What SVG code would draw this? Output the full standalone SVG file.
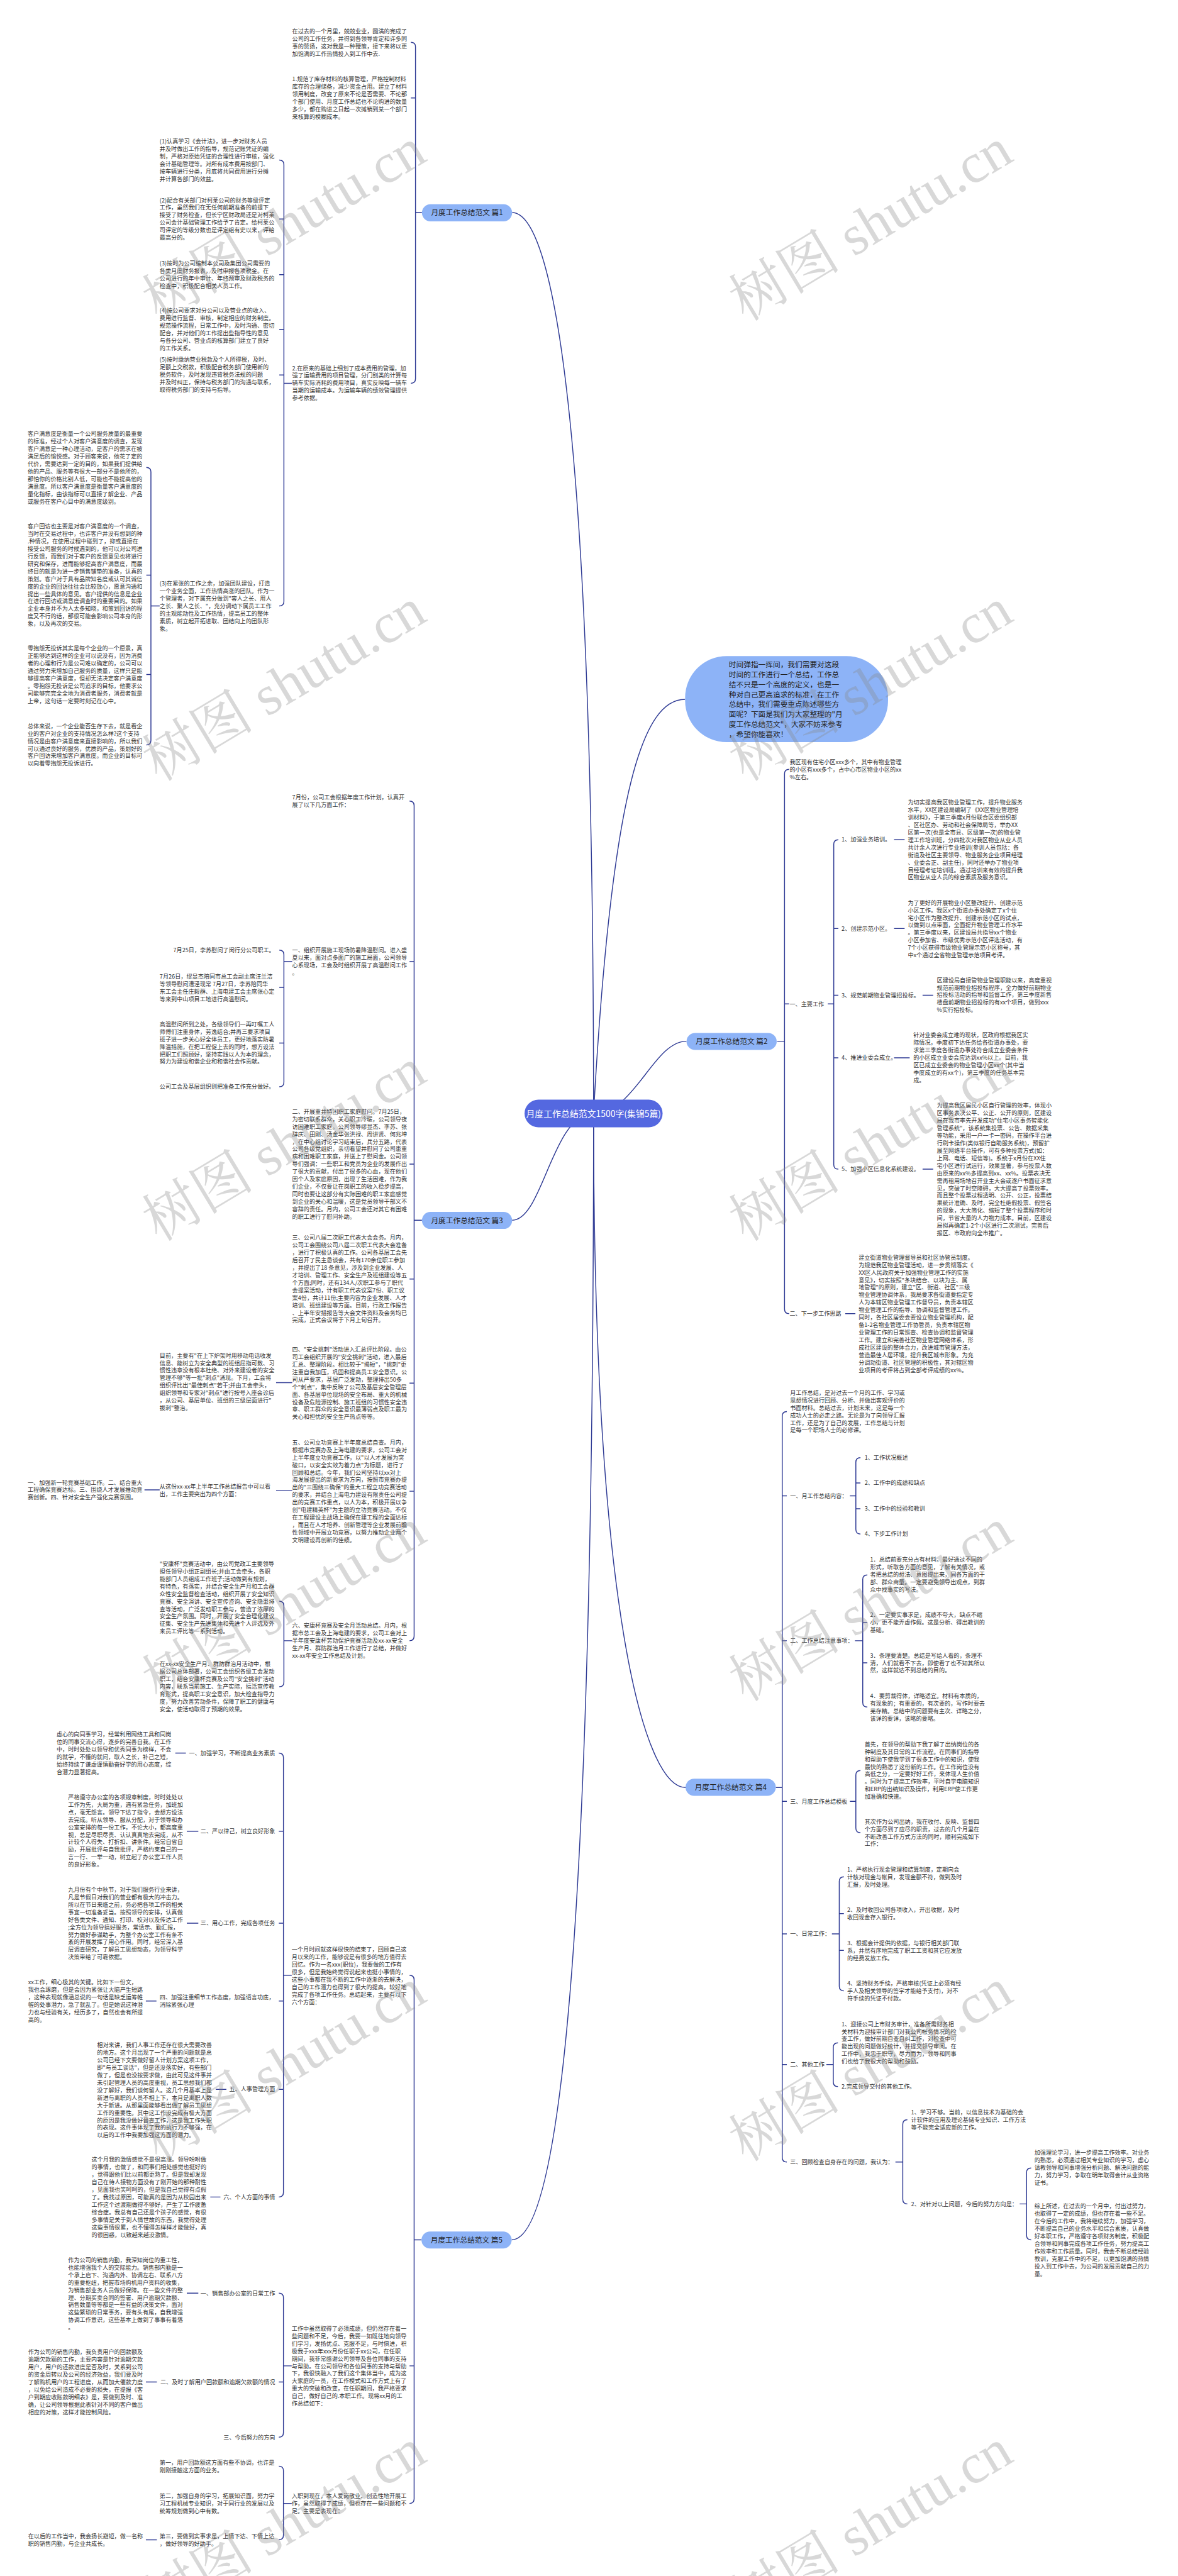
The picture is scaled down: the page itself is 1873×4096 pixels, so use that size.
<svg xmlns="http://www.w3.org/2000/svg" xmlns:xlink="http://www.w3.org/1999/xlink" width="1873" height="4096" viewBox="0 0 1873 4096">
<defs>
<style>
.t{font-family:"Noto Sans CJK SC","Noto Sans",sans-serif;font-size:12.5px;fill:#333}
.te{font-family:"Noto Sans CJK SC","Noto Sans",sans-serif;font-size:12.5px;fill:#333;text-anchor:end}
.n{font-family:"Noto Sans CJK SC","Noto Sans",sans-serif;font-size:16px;fill:#222}
.nm{font-family:"Noto Sans CJK SC","Noto Sans",sans-serif;font-size:16px;fill:#222;text-anchor:middle}
.c{font-family:"Noto Sans CJK SC","Noto Sans",sans-serif;font-size:19px;fill:#fff;text-anchor:middle}
.l{fill:none;stroke:#2e3a94;stroke-width:2}
.bn{fill:#8db3f7}
.wm{font-family:"Liberation Serif","Noto Serif CJK SC","Noto Sans CJK SC",serif;font-size:122px;fill:#888;fill-opacity:.33}
</style>
<text id="wmt" class="wm">树图 shutu.cn</text>
</defs>
<rect width="1873" height="4096" fill="#fff"/>
<g transform="scale(0.7316)">

<g id="connectors">
<path class="l" d="M1290,2420 C1290,900 1200,462 1113,462"/>
<path class="l" d="M1290,2420 C1330,1700 1400,1520 1489,1520"/>
<path class="l" d="M1290,2420 C1380,2420 1420,2263 1492,2263"/>
<path class="l" d="M1290,2420 C1200,2420 1180,2652 1113,2652"/>
<path class="l" d="M1290,2420 C1290,3500 1400,3885 1490,3885"/>
<path class="l" d="M1290,2420 C1290,4400 1200,4868 1112,4868"/>
<path class="l" d="M893,92 Q903,92 903,102 V823 Q903,833 893,833 M903,213 H893 M903,462 H917"/>
<path class="l" d="M607,348 Q617,348 617,358 V1307 Q617,1317 607,1317 M617,476 H607 M617,597 H607 M617,716 H607 M617,815 H607 M617,833 H635"/>
<path class="l" d="M318,1016 Q328,1016 328,1026 V1609 Q328,1619 318,1619 M328,1250 H318 M328,1466 H318 M328,1317 H347"/>
<path class="l" d="M890,1741 Q900,1741 900,1751 V3556 Q900,3566 890,3566 M900,2090 H890 M900,2530 H890 M900,2780 H890 M900,3006 H890 M900,3241 H890 M900,2652 H917"/>
<path class="l" d="M607,2065 Q617,2065 617,2075 V2352 Q617,2362 607,2362 M617,2146 H607 M617,2267 H607 M617,2090 H635"/>
<path class="l" d="M635,3005 H600 M635,3240 H600 M347,3238 H314"/>
<path class="l" d="M607,3480 Q617,3480 617,3490 V3656 Q617,3666 607,3666 M617,3566 H635"/>
<path class="l" d="M1715,1672 Q1705,1672 1705,1682 V2845 Q1705,2855 1715,2855 M1705,2182 H1715 M1689,2263 H1705"/>
<path class="l" d="M1799,2182 H1812 M1822,1825 Q1812,1825 1812,1835 V2531 Q1812,2541 1822,2541 M1812,2018 H1822 M1812,2163 H1822 M1812,2299 H1822"/>
<path class="l" d="M1943,1825 H1966 M1943,2018 H1966 M2005,2163 H2028 M1943,2299 H1977 M2005,2541 H2028 M1837,2855 H1859"/>
<path class="l" d="M1710,3068 Q1700,3068 1700,3078 V4689 Q1700,4699 1710,4699 M1700,3251 H1710 M1700,3566 H1710 M1700,3915 H1710 M1700,4203 H1710 M1700,4487 H1710 M1686,3885 H1700"/>
<path class="l" d="M1847,3251 H1860 M1870,3168 Q1860,3168 1860,3178 V3324 Q1860,3334 1870,3334 M1860,3223 H1870 M1860,3279 H1870"/>
<path class="l" d="M1858,3566 H1875 M1885,3423 Q1875,3423 1875,3433 V3700 Q1875,3710 1885,3710 M1875,3526 H1885 M1875,3614 H1885"/>
<path class="l" d="M1847,3915 H1860 M1870,3848 Q1860,3848 1860,3858 V3973 Q1860,3983 1870,3983"/>
<path class="l" d="M1808,4203 H1824 M1834,4079 Q1824,4079 1824,4089 V4317 Q1824,4327 1834,4327 M1824,4159 H1834 M1824,4239 H1834"/>
<path class="l" d="M1796,4487 H1811 M1821,4440 Q1811,4440 1811,4450 V4525 Q1811,4535 1821,4535"/>
<path class="l" d="M1946,4699 H1962 M1972,4607 Q1962,4607 1962,4617 V4780 Q1962,4790 1972,4790"/>
<path class="l" d="M2216,4790 H2231 M2241,4712 Q2231,4712 2231,4722 V4858 Q2231,4868 2241,4868"/>
<path class="l" d="M890,4293 Q900,4293 900,4303 V5431 Q900,5441 890,5441 M900,5142 H890 M900,4868 H916"/>
<path class="l" d="M606,3810 Q616,3810 616,3820 V4765 Q616,4775 606,4775 M616,3980 H606 M616,4180 H606 M616,4349 H606 M616,4541 H606 M616,4293 H634"/>
<path class="l" d="M404,3810 H381 M431,3980 H406 M431,4180 H406 M340,4349 H317 M492,4541 H469 M479,4775 H457"/>
<path class="l" d="M606,4984 Q616,4984 616,4994 V5287 Q616,5297 606,5297 M616,5177 H606 M616,5142 H634 M431,4984 H406 M341,5177 H317"/>
<path class="l" d="M606,5360 Q616,5360 616,5370 V5510 Q616,5520 606,5520 M616,5441 H634 M341,5520 H317"/>
</g>

<g id="center"><rect x="1140" y="2390" width="300" height="60" rx="30" fill="#5468e0"/><text class="c" x="1290" y="2427">月度工作总结范文1500字(集锦5篇)</text></g>

<g id="intro"><rect x="1489" y="1426" width="441" height="187" rx="90" class="bn"/>
<text class="n" x="1584" y="1450.5"><tspan>时间弹指一挥间，我们需要对这段</tspan><tspan x="1584" dy="21.6">时间的工作进行一个总结，工作总</tspan><tspan x="1584" dy="21.6">结不只是一个高度的定义，也是一</tspan><tspan x="1584" dy="21.6">种对自己更高追求的标准，在工作</tspan><tspan x="1584" dy="21.6">总结中，我们需要重点陈述哪些方</tspan><tspan x="1584" dy="21.6">面呢？下面是我们为大家整理的"月</tspan><tspan x="1584" dy="21.6">度工作总结范文"，大家不妨来参考</tspan><tspan x="1584" dy="21.6">，希望你能喜欢！</tspan></text></g>

<g id="p1"><rect x="917" y="444" width="196" height="37" rx="18.5" class="bn"/><text class="nm" x="1015" y="468">月度工作总结范文 篇1</text></g>
<g id="p1a"><text class="t" x="635" y="72.5"><tspan>在过去的一个月里，兢兢业业，圆满的完成了</tspan><tspan x="635" dy="16.3">公司的工作任务，并得到各领导肯定和许多同</tspan><tspan x="635" dy="16.3">事的赞扬，这对我是一种鞭策，接下来将以更</tspan><tspan x="635" dy="16.3">加饱满的工作热情投入到工作中去.</tspan></text></g>
<g id="p1b"><text class="t" x="635" y="176.5"><tspan>1.规范了库存材料的核算管理，严格控制材料</tspan><tspan x="635" dy="16.3">库存的合理储备，减少资金占用。建立了材料</tspan><tspan x="635" dy="16.3">领用制度，改变了原来不论是否需要、不论那</tspan><tspan x="635" dy="16.3">个部门使用、月度工作总结也不论购进的数量</tspan><tspan x="635" dy="16.3">多少，都在购进之日起一次摊销到某一个部门</tspan><tspan x="635" dy="16.3">来核算的模糊成本。</tspan></text></g>
<g id="p1c"><text class="t" x="635" y="804.5"><tspan>2.在原来的基础上细划了成本费用的管理，加</tspan><tspan x="635" dy="16.3">强了运输费用的项目管理，分门别类的计算每</tspan><tspan x="635" dy="16.3">辆车实际消耗的费用项目，真实反映每一辆车</tspan><tspan x="635" dy="16.3">当期的运输成本。为运输车辆的绩效管理提供</tspan><tspan x="635" dy="16.3">参考依据。</tspan></text></g>
<g id="m1"><text class="t" x="347" y="311.5"><tspan>(1)认真学习《会计法》，进一步对财务人员</tspan><tspan x="347" dy="16.3">并及时做出工作的指导，规范记账凭证的编</tspan><tspan x="347" dy="16.3">制，严格对原始凭证的合理性进行审核，强化</tspan><tspan x="347" dy="16.3">会计基础管理等。对所有成本费用按部门、</tspan><tspan x="347" dy="16.3">按车辆进行分类，月底将共同费用进行分摊</tspan><tspan x="347" dy="16.3">并计算各部门的效益。</tspan></text></g>
<g id="m2"><text class="t" x="347" y="439.5"><tspan>(2)配合有关部门对柯莱公司的财务等级评定</tspan><tspan x="347" dy="16.3">工作，虽然我们在无任何前期准备的前提下</tspan><tspan x="347" dy="16.3">接受了财务检查，但长宁区财政局还是对柯莱</tspan><tspan x="347" dy="16.3">公司会计基础管理工作给予了肯定。给柯莱公</tspan><tspan x="347" dy="16.3">司评定的等级分数也是评定组有史以来，评给</tspan><tspan x="347" dy="16.3">最高分的。</tspan></text></g>
<g id="m3"><text class="t" x="347" y="577.5"><tspan>(3)按时为公司编制本公司及集团公司需要的</tspan><tspan x="347" dy="16.3">各类月度财务报表，及时申报各项税金。在</tspan><tspan x="347" dy="16.3">公司进行的年中审计、年终预审及财政税务的</tspan><tspan x="347" dy="16.3">检查中，积极配合相关人员工作。</tspan></text></g>
<g id="m4"><text class="t" x="347" y="679.5"><tspan>(4)按公司要求对分公司以及营业点的收入、</tspan><tspan x="347" dy="16.3">费用进行监督、审核，制定相应的财务制度。</tspan><tspan x="347" dy="16.3">规范操作流程，日常工作中，及时沟通、密切</tspan><tspan x="347" dy="16.3">配合，并对他们的工作提出些指导性的意见</tspan><tspan x="347" dy="16.3">与各分公司、营业点的核算部门建立了良好</tspan><tspan x="347" dy="16.3">的工作关系。</tspan></text></g>
<g id="m5"><text class="t" x="347" y="786.5"><tspan>(5)按时缴纳营业税款及个人所得税，及时、</tspan><tspan x="347" dy="16.3">足额上交税款，积极配合税务部门使用新的</tspan><tspan x="347" dy="16.3">税务软件，及时发现违背税务法规的问题</tspan><tspan x="347" dy="16.3">并及时纠正，保持与税务部门的沟通与联系，</tspan><tspan x="347" dy="16.3">取得税务部门的支持与指导。</tspan></text></g>
<g id="m6"><text class="t" x="347" y="1272.5"><tspan>(3)在紧张的工作之余，加强团队建设，打造</tspan><tspan x="347" dy="16.3">一个业务全面，工作热情高涨的团队。作为一</tspan><tspan x="347" dy="16.3">个管理者，对下属充分做到"容人之长、用人</tspan><tspan x="347" dy="16.3">之长、聚人之长、"，充分调动下属员工工作</tspan><tspan x="347" dy="16.3">的主观能动性及工作热情，提高员工的整体</tspan><tspan x="347" dy="16.3">素质，树立起开拓进取、团结向上的团队形</tspan><tspan x="347" dy="16.3">象。</tspan></text></g>
<g id="f1"><text class="t" x="60" y="947.5"><tspan>客户满意度是衡量一个公司服务质量的最重要</tspan><tspan x="60" dy="16.3">的标准，经过个人对客户满意度的调查，发现</tspan><tspan x="60" dy="16.3">客户满意是一种心理活动，是客户的需求在被</tspan><tspan x="60" dy="16.3">满足后的愉悦感。对于顾客来说，他花了定的</tspan><tspan x="60" dy="16.3">代价，需要达到一定的目的，如果我们提供给</tspan><tspan x="60" dy="16.3">他的产品、服务等有很大一部分不是他所的，</tspan><tspan x="60" dy="16.3">那怕你的价格比别人低，可能也不能提高他的</tspan><tspan x="60" dy="16.3">满意度。所以客户满意度是衡量客户满意度的</tspan><tspan x="60" dy="16.3">量化指标，由该指标可以直接了解企业、产品</tspan><tspan x="60" dy="16.3">或服务在客户心目中的满意度级别。</tspan></text></g>
<g id="f2"><text class="t" x="60" y="1148.5"><tspan>客户回访也主要是对客户满意度的一个调查，</tspan><tspan x="60" dy="16.3">当时在交易过程中，也许客户并没有想到的种</tspan><tspan x="60" dy="16.3">.种情况，在使用过程中碰到了，抑或直接在</tspan><tspan x="60" dy="16.3">接受公司服务的时候遇到的，他可以对公司进</tspan><tspan x="60" dy="16.3">行反馈，而我们对于客户的反馈意见也将进行</tspan><tspan x="60" dy="16.3">研究和保存，进而能够提高客户满意度，而最</tspan><tspan x="60" dy="16.3">终目的就是为进一步销售铺垫的准备，认真的</tspan><tspan x="60" dy="16.3">策划。客户对于具有品牌知名度或认可其诚信</tspan><tspan x="60" dy="16.3">度的企业的回访往往会比较放心，愿意沟通和</tspan><tspan x="60" dy="16.3">提出一些具体的意见。客户提供的信息是企业</tspan><tspan x="60" dy="16.3">在进行回访或满意度调查时的重要目的。如果</tspan><tspan x="60" dy="16.3">企业本身并不为人太多知晓，和策划回访的程</tspan><tspan x="60" dy="16.3">度又不行的话，那很可能会影响公司本身的形</tspan><tspan x="60" dy="16.3">象，以及再次的交易。</tspan></text></g>
<g id="f3"><text class="t" x="60" y="1413.5"><tspan>零抱怨无投诉其实是每个企业的一个愿景，真</tspan><tspan x="60" dy="16.3">正能够达到这样的企业可以说没有，因为消费</tspan><tspan x="60" dy="16.3">者的心理和行为是公司难以确定的，公司可以</tspan><tspan x="60" dy="16.3">通过努力来增加自己服务的质量，这样只是能</tspan><tspan x="60" dy="16.3">够提高客户满意度，但却无法决定客户满意度</tspan><tspan x="60" dy="16.3">。零抱怨无投诉是公司追求的目标，他要求公</tspan><tspan x="60" dy="16.3">司能够完完全全地为消费者服务，消费者就是</tspan><tspan x="60" dy="16.3">上帝，这句话一定要时刻记在心中。</tspan></text></g>
<g id="f4"><text class="t" x="60" y="1582.5"><tspan>总体来说，一个企业能否生存下去，就是看企</tspan><tspan x="60" dy="16.3">业的客户对企业的支持情况怎么样?这个支持</tspan><tspan x="60" dy="16.3">情况是由客户满意度来直接影响的，所以我们</tspan><tspan x="60" dy="16.3">可以通过良好的服务，优质的产品，策划好的</tspan><tspan x="60" dy="16.3">客户回访来增加客户满意度。而企业的目标可</tspan><tspan x="60" dy="16.3">以向着零抱怨无投诉进行。</tspan></text></g>

<g id="p3"><rect x="917" y="2634" width="196" height="37" rx="18.5" class="bn"/><text class="nm" x="1015" y="2658">月度工作总结范文 篇3</text></g>
<g id="t0"><text class="t" x="635" y="1737.5"><tspan>7月份，公司工会根据年度工作计划，认真开</tspan><tspan x="635" dy="16.3">展了以下几方面工作：</tspan></text></g>
<g id="t1"><text class="t" x="635" y="2069.5"><tspan>一、组织开展施工现场防暑降温慰问。进入盛</tspan><tspan x="635" dy="16.3">夏以来，面对点多面广的施工局面，公司领导</tspan><tspan x="635" dy="16.3">心系现场，工会及时组织开展了高温慰问工作</tspan><tspan x="635" dy="16.3">。</tspan></text></g>
<g id="t1a"><text class="te" x="597" y="2069.5">7月25日，李苏慰问了闵行分公司职工。</text></g>
<g id="t1b"><text class="t" x="347" y="2126.5"><tspan>7月26日，缪显杰陪同市总工会副主席汪兰洁</tspan><tspan x="347" dy="16.3">等领导慰问漕泾现常 7月27日，李苏陪同华</tspan><tspan x="347" dy="16.3">东工会主任庄毅群、上海电建工会主席张心定</tspan><tspan x="347" dy="16.3">等来到中山项目工地进行高温慰问。</tspan></text></g>
<g id="t1c"><text class="t" x="347" y="2230.5"><tspan>高温慰问所到之处，各级领导们一再叮嘱工人</tspan><tspan x="347" dy="16.3">师傅们注重身体，劳逸结合;并再三要求项目</tspan><tspan x="347" dy="16.3">班子进一步关心好全体员工，更好地落实防暑</tspan><tspan x="347" dy="16.3">降温措施，在把工程促上去的同时，想方设法</tspan><tspan x="347" dy="16.3">把职工们照顾好，坚持实践以人为本的理念，</tspan><tspan x="347" dy="16.3">努力为建设和谐企业和和谐社会作贡献。</tspan></text></g>
<g id="t1d"><text class="t" x="347" y="2366.5">公司工会及基层组织则把准备工作充分做好。</text></g>
<g id="t2"><text class="t" x="635" y="2420.5"><tspan>二、开展重并特困职工家庭慰问。7月25日，</tspan><tspan x="635" dy="16.3">为密切联系群众，关心职工冷暖，公司领导夜</tspan><tspan x="635" dy="16.3">访困难职工家庭。公司领导缪显杰、李苏、张</tspan><tspan x="635" dy="16.3">辞庆、田刚、汤金华张洪禄、周讲贤、何兆坤</tspan><tspan x="635" dy="16.3">，在中心组讨论学习结束后，兵分五路，代表</tspan><tspan x="635" dy="16.3">公司各级党组织，亲切看望并慰问了公司患重</tspan><tspan x="635" dy="16.3">病和困难职工家庭，并送上了慰问金。公司领</tspan><tspan x="635" dy="16.3">导们强调：一些职工和党员为企业的发展作出</tspan><tspan x="635" dy="16.3">了很大的贡献，付出了很多的心血，现在他们</tspan><tspan x="635" dy="16.3">因个人及家庭原因，出现了生活困难，作为我</tspan><tspan x="635" dy="16.3">们企业，不仅要让在岗职工的收入稳步提高，</tspan><tspan x="635" dy="16.3">同时也要让这部分有实际困难的职工家庭感觉</tspan><tspan x="635" dy="16.3">到企业的关心和温暖，这是党员领导干部义不</tspan><tspan x="635" dy="16.3">容辞的责任。月内，公司工会还对其它有困难</tspan><tspan x="635" dy="16.3">的职工进行了慰问补助。</tspan></text></g>
<g id="t3"><text class="t" x="635" y="2694.5"><tspan>三、公司八届二次职工代表大会会务。月内，</tspan><tspan x="635" dy="16.3">公司工会围绕公司八届二次职工代表大会准备</tspan><tspan x="635" dy="16.3">，进行了积极认真的工作。公司各基层工会先</tspan><tspan x="635" dy="16.3">后召开了民主恳谈会，共有170余位职工参加</tspan><tspan x="635" dy="16.3">，并提出了18 条意见，涉及到企业发展、人</tspan><tspan x="635" dy="16.3">才培训、管理工作、安全生产及班组建设等五</tspan><tspan x="635" dy="16.3">个方面;同时，还有134人/次职工参与了职代</tspan><tspan x="635" dy="16.3">会提案活动，计有职工代表议案7份、职工议</tspan><tspan x="635" dy="16.3">案4份，共计11份;主要内容为企业发展、人才</tspan><tspan x="635" dy="16.3">培训、班组建设等方面。目前，行政工作报告</tspan><tspan x="635" dy="16.3">、上半年安措报告等大会文件资料及会务均已</tspan><tspan x="635" dy="16.3">完成，正式会议将于下月上旬召开。</tspan></text></g>
<g id="t4"><text class="t" x="635" y="2937.5"><tspan>四、"安全挑刺"活动进入汇总评比阶段。由公</tspan><tspan x="635" dy="16.3">司工会组织开展的"安全挑刺"活动，进入最后</tspan><tspan x="635" dy="16.3">汇总、整理阶段。相比较于"揭短"，"挑刺"更</tspan><tspan x="635" dy="16.3">注重自我加压，巩固和提高员工安全意识。公</tspan><tspan x="635" dy="16.3">司从严要求，基层广泛发动，整理排出50多</tspan><tspan x="635" dy="16.3">个"刺点"，集中反映了公司及基层安全管理层</tspan><tspan x="635" dy="16.3">面、各基层单位现场的安全布局、重大的机械</tspan><tspan x="635" dy="16.3">设备及危险源控制、施工班组的习惯性安全违</tspan><tspan x="635" dy="16.3">章、职工群众的安全意识最薄弱点及职工最为</tspan><tspan x="635" dy="16.3">关心和担忧的安全生产热点等等。</tspan></text></g>
<g id="t4a"><text class="t" x="347" y="2950.5"><tspan>目前，主要有"在上下炉架时用移动电话收发</tspan><tspan x="347" dy="16.3">信息、能树立为安全典型的班组屈指可数、习</tspan><tspan x="347" dy="16.3">惯性违章没有根本杜绝、对外来建设者的安全</tspan><tspan x="347" dy="16.3">管理不够"等一批"刺点"涌现。下月，工会将</tspan><tspan x="347" dy="16.3">组织评比出"最佳刺点"若干;并由工会牵头，</tspan><tspan x="347" dy="16.3">组织领导和专家对"刺点"进行按号入座会诊后</tspan><tspan x="347" dy="16.3">，从公司、基层单位、班组的三级层面进行"</tspan><tspan x="347" dy="16.3">拔刺"整治。</tspan></text></g>
<g id="t5"><text class="t" x="635" y="3139.5"><tspan>五、公司立功竞赛上半年度总结自查。月内，</tspan><tspan x="635" dy="16.3">根据市竞赛办及上海电建的要求，公司工会对</tspan><tspan x="635" dy="16.3">上半年度立功竞赛工作，以"以人才发展为突</tspan><tspan x="635" dy="16.3">破口，以安全实效为着力点"为标题，进行了</tspan><tspan x="635" dy="16.3">回顾和总结。今年，我们公司坚持以xx对上</tspan><tspan x="635" dy="16.3">海发展提出的新要求为方向，按照市竞赛办提</tspan><tspan x="635" dy="16.3">出的"三围绕三确保"的重大工程立功竞赛活动</tspan><tspan x="635" dy="16.3">的要求，并结合上海电力建设有限责任公司提</tspan><tspan x="635" dy="16.3">出的竞赛工作重点，以人为本，积极开展以争</tspan><tspan x="635" dy="16.3">创"电建精英杯"为主题的立功竞赛活动。不仅</tspan><tspan x="635" dy="16.3">在工程建设主战场上确保在建工程的全面达标</tspan><tspan x="635" dy="16.3">，而且在人才培养、创新管理等企业发展前瞻</tspan><tspan x="635" dy="16.3">性领域中开展立功竞赛，以努力推动企业两个</tspan><tspan x="635" dy="16.3">文明建设再创新的佳绩。</tspan></text></g>
<g id="t5a"><text class="t" x="347" y="3235.5"><tspan>从这份xx-xx年上半年工作总结报告中可以看</tspan><tspan x="347" dy="16.3">出，工作主要突出为四个方面：</tspan></text></g>
<g id="t5b"><text class="t" x="60" y="3226.5"><tspan>一、加强新一轮竞赛基础工作。二、结合重大</tspan><tspan x="60" dy="16.3">工程确保竞赛达标。三、围绕人才发展推动竞</tspan><tspan x="60" dy="16.3">赛创新。四、针对安全生产强化竞赛氛围。</tspan></text></g>
<g id="t6"><text class="t" x="635" y="3537.5"><tspan>六、安康杯竞赛及安全月活动总结。月内，根</tspan><tspan x="635" dy="16.3">据市总工会及上海电建的要求，公司工会对上</tspan><tspan x="635" dy="16.3">半年度安康杯劳动保护竞赛活动及xx-xx安全</tspan><tspan x="635" dy="16.3">生产月、群防群治月工作进行了总结，并做好</tspan><tspan x="635" dy="16.3">xx-xx年安全工作总结及计划。</tspan></text></g>
<g id="t6a"><text class="t" x="347" y="3403.5"><tspan>"安康杯"竞赛活动中，由公司党政工主要领导</tspan><tspan x="347" dy="16.3">担任领导小组正副组长;并由工会牵头，各职</tspan><tspan x="347" dy="16.3">能部门人员组成工作班子;活动做到有规划，</tspan><tspan x="347" dy="16.3">有特色，有落实，并结合安全生产月和工会群</tspan><tspan x="347" dy="16.3">众性安全监督检查活动，组织开展了安全知识</tspan><tspan x="347" dy="16.3">竞赛、安全演讲、安全宣传咨询、安全隐患排</tspan><tspan x="347" dy="16.3">查等活动，广泛发动职工参与，营造了浓厚的</tspan><tspan x="347" dy="16.3">安全生产氛围。同时，开展了安全合理化建议</tspan><tspan x="347" dy="16.3">征集、安全生产先进集体和先进个人评选及外</tspan><tspan x="347" dy="16.3">来员工评比等一系列活动。</tspan></text></g>
<g id="t6b"><text class="t" x="347" y="3621.5"><tspan>在xx-xx安全生产月、群防群治月活动中，根</tspan><tspan x="347" dy="16.3">据公司总体部署，公司工会组织各级工会发动</tspan><tspan x="347" dy="16.3">职工，结合安康杯竞赛及公司"安全挑刺"活动</tspan><tspan x="347" dy="16.3">内容，联系当前施工、生产实际，搞活宣传教</tspan><tspan x="347" dy="16.3">育形式，提高职工安全意识，加大检查指导力</tspan><tspan x="347" dy="16.3">度，努力改善劳动条件，保障了职工的健康与</tspan><tspan x="347" dy="16.3">安全，使活动取得了预期的效果。</tspan></text></g>

<g id="p2"><rect x="1492" y="2245" width="196" height="37" rx="18.5" class="bn"/><text class="nm" x="1590" y="2269">月度工作总结范文 篇2</text></g>
<g id="w0"><text class="t" x="1716" y="1660.5"><tspan>我区现有住宅小区xxx多个，其中有物业管理</tspan><tspan x="1716" dy="16.3">的小区有xxx多个，占中心市区物业小区的xx</tspan><tspan x="1716" dy="16.3">%左右。</tspan></text></g>
<g id="w1"><text class="t" x="1716" y="2186.5">一、主要工作</text></g>
<g id="w1l"><text class="t" x="1829" y="1829.5">1、加强业务培训。</text><text class="t" x="1829" y="2022.5">2、创建示范小区。</text><text class="t" x="1829" y="2167.5">3、规范前期物业管理招投标。</text><text class="t" x="1829" y="2303.5">4、推进业委会成立。</text><text class="t" x="1829" y="2545.5">5、加强小区信息化系统建设。</text></g>
<g id="w1a"><text class="t" x="1973" y="1748.5"><tspan>为切实提高我区物业管理工作，提升物业服务</tspan><tspan x="1973" dy="16.3">水平，XX区建设局编制了《XX区物业管理培</tspan><tspan x="1973" dy="16.3">训材料》，于第三季度x月份联合区委组织部</tspan><tspan x="1973" dy="16.3">、区社区办、劳动和社会保障局等，举办XX</tspan><tspan x="1973" dy="16.3">区第一次(也是全市县、区级第一次)的物业管</tspan><tspan x="1973" dy="16.3">理工作培训班，分四批次对我区物业从业人员</tspan><tspan x="1973" dy="16.3">共计余人次进行专业培训(参训人员包括：各</tspan><tspan x="1973" dy="16.3">街道及社区主要领导、物业服务企业项目经理</tspan><tspan x="1973" dy="16.3">、业委会正、副主任)，同时还举办了物业项</tspan><tspan x="1973" dy="16.3">目经理考证培训班。通过培训来有效的提升我</tspan><tspan x="1973" dy="16.3">区物业从业人员的综合素质及服务意识。</tspan></text></g>
<g id="w2a"><text class="t" x="1973" y="1966.5"><tspan>为了更好的开展物业小区整改提升、创建示范</tspan><tspan x="1973" dy="16.3">小区工作。我区x个街道办事处确定了x个住</tspan><tspan x="1973" dy="16.3">宅小区作为整改提升、创建示范小区的试点，</tspan><tspan x="1973" dy="16.3">以做到以点带面，全面提升物业管理工作水平</tspan><tspan x="1973" dy="16.3">。第三季度以来，区建设局共指导xx个物业</tspan><tspan x="1973" dy="16.3">小区参加省、市级优秀示范小区评选活动，有</tspan><tspan x="1973" dy="16.3">7个小区获得市级物业管理示范小区称号，其</tspan><tspan x="1973" dy="16.3">中x个通过全省物业管理示范项目考评。</tspan></text></g>
<g id="w3a"><text class="t" x="2036" y="2134.5"><tspan>区建设局自接管物业管理职能以来，高度重视</tspan><tspan x="2036" dy="16.3">规范前期物业招投标程序，全力做好前期物业</tspan><tspan x="2036" dy="16.3">招投标活动的指导和监督工作，第三季度新售</tspan><tspan x="2036" dy="16.3">楼盘前期物业招投标的有xx个项目，做到xxx</tspan><tspan x="2036" dy="16.3">%实行招投标。</tspan></text></g>
<g id="w4a"><text class="t" x="1985" y="2254.5"><tspan>针对业委会成立难的现状，区政府根据我区实</tspan><tspan x="1985" dy="16.3">际情况，季度初下达任务给各街道办事处，要</tspan><tspan x="1985" dy="16.3">求第三季度各街道办事处符合成立业委会条件</tspan><tspan x="1985" dy="16.3">的小区成立业委会应达到xx%以上。目前，我</tspan><tspan x="1985" dy="16.3">区已成立业委会的物业管理小区xx个(其中当</tspan><tspan x="1985" dy="16.3">季度成立的有xx个)，第三季度的任务基本完</tspan><tspan x="1985" dy="16.3">成。</tspan></text></g>
<g id="w5a"><text class="t" x="2036" y="2407.5"><tspan>为提高我区居民小区自行管理的效率，体现小</tspan><tspan x="2036" dy="16.3">区事务表决公平、公正、公开的原则，区建设</tspan><tspan x="2036" dy="16.3">局在我市率先开发成功"住宅小区事务智能化</tspan><tspan x="2036" dy="16.3">管理系统"，该系统集投票、公告、数据采集</tspan><tspan x="2036" dy="16.3">等功能，采用一户一卡一密码，在操作平台进</tspan><tspan x="2036" dy="16.3">行刷卡操作(类似银行自助服务系统)，预留扩</tspan><tspan x="2036" dy="16.3">展至网络平台操作，可有多种投票方式(如：</tspan><tspan x="2036" dy="16.3">上网、电话、短信等)。系统于x月份在XX住</tspan><tspan x="2036" dy="16.3">宅小区进行试运行，效果显著，参与投票人数</tspan><tspan x="2036" dy="16.3">由原来的xx%多提高到xx、xx%。投票表决无</tspan><tspan x="2036" dy="16.3">需再租用场地召开业主大会或逐户书面征求意</tspan><tspan x="2036" dy="16.3">见，突破了时空障碍，大大提高了投票效率。</tspan><tspan x="2036" dy="16.3">而且整个投票过程透明、公开、公正，投票结</tspan><tspan x="2036" dy="16.3">果统计准确、及时，完全杜绝假投票、假签名</tspan><tspan x="2036" dy="16.3">的现象，大大简化、缩短了整个投票程序和时</tspan><tspan x="2036" dy="16.3">间，节省大量的人力物力成本。目前，区建设</tspan><tspan x="2036" dy="16.3">局拟再确定1-2个小区进行二次测试，完善后</tspan><tspan x="2036" dy="16.3">报区、市政府向全市推广。</tspan></text></g>
<g id="w2"><text class="t" x="1716" y="2859.5">二、下一步工作思路</text></g>
<g id="w2b"><text class="t" x="1866" y="2737.5"><tspan>建立街道物业管理督导员和社区协管员制度。</tspan><tspan x="1866" dy="16.3">为规范我区物业管理活动，进一步贯彻落实《</tspan><tspan x="1866" dy="16.3">XX区人民政府关于加强物业管理工作的实施</tspan><tspan x="1866" dy="16.3">意见》，切实按照"条块结合、以块为主、属</tspan><tspan x="1866" dy="16.3">地管理"的原则，建立"区、街道、社区"三级</tspan><tspan x="1866" dy="16.3">物业管理协调体系，我局要求各街道要指定专</tspan><tspan x="1866" dy="16.3">人为本辖区物业管理工作督导员，负责本辖区</tspan><tspan x="1866" dy="16.3">物业管理工作的指导、协调和监督管理工作。</tspan><tspan x="1866" dy="16.3">同时，各社区居委会要设立物业管理机构，配</tspan><tspan x="1866" dy="16.3">备1-2名物业管理工作协管员，负责本辖区物</tspan><tspan x="1866" dy="16.3">业管理工作的日常巡查、检查协调和监督管理</tspan><tspan x="1866" dy="16.3">工作。建立和完善社区物业管理网络体系，形</tspan><tspan x="1866" dy="16.3">成社区建设的整体合力，改进城市管理方法，</tspan><tspan x="1866" dy="16.3">营造最佳人居环境，提升我区城市形象。为充</tspan><tspan x="1866" dy="16.3">分调动街道、社区管理的积极性，其对辖区物</tspan><tspan x="1866" dy="16.3">业项目的考评将占到全部考评成绩的xx%。</tspan></text></g>

<g id="p4"><rect x="1490" y="3866" width="196" height="37" rx="18.5" class="bn"/><text class="nm" x="1588" y="3890">月度工作总结范文 篇4</text></g>
<g id="q0"><text class="t" x="1717" y="3031.5"><tspan>月工作总结，是对过去一个月的工作、学习或</tspan><tspan x="1717" dy="16.3">思想情况进行回顾、分析、并做出客观评价的</tspan><tspan x="1717" dy="16.3">书面材料。总结过去，计划未来，这是每一个</tspan><tspan x="1717" dy="16.3">成功人士的必走之路。无论是为了向领导汇报</tspan><tspan x="1717" dy="16.3">工作，还是为了自己的发展，工作总结与计划</tspan><tspan x="1717" dy="16.3">是每一个职场人士的必修课。</tspan></text></g>
<g id="q1"><text class="t" x="1717" y="3255.5">一、月工作总结内容：</text><text class="t" x="1879" y="3172.5">1、工作状况概述</text><text class="t" x="1879" y="3227.5">2、工作中的成绩和缺点</text><text class="t" x="1879" y="3283.5">3、工作中的经验和教训</text><text class="t" x="1879" y="3338.5">4、下步工作计划</text></g>
<g id="q2"><text class="t" x="1717" y="3570.5">二、工作总结注意事项：</text></g>
<g id="q2a"><text class="t" x="1891" y="3394.5"><tspan>1．总结前要充分占有材料。最好通过不同的</tspan><tspan x="1891" dy="16.3">形式，听取各方面的意见，了解有关情况，或</tspan><tspan x="1891" dy="16.3">者把总结的想法、意图提出来，同各方面的干</tspan><tspan x="1891" dy="16.3">部、群众商量。一定要避免领导出观点，到群</tspan><tspan x="1891" dy="16.3">众中找事实的写法。</tspan></text></g>
<g id="q2b"><text class="t" x="1891" y="3514.5"><tspan>2．一定要实事求是，成绩不夸大，缺点不缩</tspan><tspan x="1891" dy="16.3">小，更不能弄虚作假。这是分析、得出教训的</tspan><tspan x="1891" dy="16.3">基础。</tspan></text></g>
<g id="q2c"><text class="t" x="1891" y="3602.5"><tspan>3．条理要清楚。总结是写给人看的，条理不</tspan><tspan x="1891" dy="16.3">清，人们就看不下去，即使看了也不知其所以</tspan><tspan x="1891" dy="16.3">然，这样就达不到总结的目的。</tspan></text></g>
<g id="q2d"><text class="t" x="1891" y="3690.5"><tspan>4．要剪裁得体，详略适宜。材料有本质的，</tspan><tspan x="1891" dy="16.3">有现象的；有重要的，有次要的，写作时要去</tspan><tspan x="1891" dy="16.3">芜存精。总结中的问题要有主次、详略之分，</tspan><tspan x="1891" dy="16.3">该详的要详，该略的要略。</tspan></text></g>
<g id="q3"><text class="t" x="1717" y="3919.5">三、月度工作总结模板</text></g>
<g id="q3a"><text class="t" x="1879" y="3795.5"><tspan>首先，在领导的帮助下我了解了出纳岗位的各</tspan><tspan x="1879" dy="16.3">种制度及其日常的工作流程。在同事们的指导</tspan><tspan x="1879" dy="16.3">和帮助下使我学到了很多工作中的知识，使我</tspan><tspan x="1879" dy="16.3">最快的熟悉了这份新的工作。在工作岗位没有</tspan><tspan x="1879" dy="16.3">高低之分，一定要好好工作，来体现人生价值</tspan><tspan x="1879" dy="16.3">。同时为了提高工作效率，平时自学电脑知识</tspan><tspan x="1879" dy="16.3">和ERP的出纳知识及操作，利用ERP使工作更</tspan><tspan x="1879" dy="16.3">加准确和快速。</tspan></text></g>
<g id="q3b"><text class="t" x="1879" y="3963.5"><tspan>其次作为公司出纳，我在收付、反映、监督四</tspan><tspan x="1879" dy="16.3">个方面尽到了应尽的职责，过去的几个月里在</tspan><tspan x="1879" dy="16.3">不断改善工作方式方法的同时，顺利完成如下</tspan><tspan x="1879" dy="16.3">工作：</tspan></text></g>
<g id="q4"><text class="t" x="1717" y="4207.5">一、日常工作：</text></g>
<g id="q4a"><text class="t" x="1841" y="4067.5"><tspan>1、严格执行现金管理和结算制度，定期向会</tspan><tspan x="1841" dy="16.3">计核对现金与帐目，发现金额不符，做到及时</tspan><tspan x="1841" dy="16.3">汇报，及时处理。</tspan></text></g>
<g id="q4b"><text class="t" x="1841" y="4155.5"><tspan>2、及时收回公司各项收入，开出收据，及时</tspan><tspan x="1841" dy="16.3">收回现金存入银行。</tspan></text></g>
<g id="q4c"><text class="t" x="1841" y="4227.5"><tspan>3、根据会计提供的依据，与银行相关部门联</tspan><tspan x="1841" dy="16.3">系，井然有序地完成了职工工资和其它应发放</tspan><tspan x="1841" dy="16.3">的经费发放工作。</tspan></text></g>
<g id="q4d"><text class="t" x="1841" y="4315.5"><tspan>4、坚持财务手续，严格审核(凭证上必须有经</tspan><tspan x="1841" dy="16.3">手人及相关领导的签字才能给予支付)，对不</tspan><tspan x="1841" dy="16.3">符手续的凭证不付款。</tspan></text></g>
<g id="q5"><text class="t" x="1717" y="4491.5">二、其他工作</text></g>
<g id="q5a"><text class="t" x="1829" y="4403.5"><tspan>1、迎接公司上市财务审计，准备所需财务相</tspan><tspan x="1829" dy="16.3">关材料为迎接审计部门对我公司帐务情况的检</tspan><tspan x="1829" dy="16.3">查工作，做好前期自查自纠工作，对检查中可</tspan><tspan x="1829" dy="16.3">能出现的问题做好统计，并提交领导审阅。在</tspan><tspan x="1829" dy="16.3">工作中，我忠于职守，尽力而为，领导和同事</tspan><tspan x="1829" dy="16.3">们也给了我很大的帮助和鼓励。</tspan></text></g>
<g id="q5b"><text class="t" x="1829" y="4539.5">2.完成领导交付的其他工作。</text></g>
<g id="q6"><text class="t" x="1717" y="4703.5">三、回顾检查自身存在的问题，我认为：</text></g>
<g id="q6a"><text class="t" x="1980" y="4595.5"><tspan>1、学习不够。当前，以信息技术为基础的会</tspan><tspan x="1980" dy="16.3">计软件的应用及理论基储专业知识、工作方法</tspan><tspan x="1980" dy="16.3">等不能完全适应新的工作。</tspan></text></g>
<g id="q6b"><text class="t" x="1980" y="4794.5">2、对针对以上问题，今后的努力方向是：</text></g>
<g id="q6b1"><text class="t" x="2248" y="4683.5"><tspan>加强理论学习，进一步提高工作效率。对业务</tspan><tspan x="2248" dy="16.3">的熟悉，必须通过相关专业知识的学习，虚心</tspan><tspan x="2248" dy="16.3">请教领导和同事增强分析问题、解决问题的能</tspan><tspan x="2248" dy="16.3">力，努力学习，争取在明年取得会计从业资格</tspan><tspan x="2248" dy="16.3">证书。</tspan></text></g>
<g id="q6b2"><text class="t" x="2248" y="4799.5"><tspan>综上所述，在过去的一个月中，付出过努力，</tspan><tspan x="2248" dy="16.3">也取得了一定的成绩，但也存在着一些不足。</tspan><tspan x="2248" dy="16.3">在今后的工作中，我将继续努力，加强学习，</tspan><tspan x="2248" dy="16.3">不断提高自己的业务水平和综合素质，认真做</tspan><tspan x="2248" dy="16.3">好本职工作，严格遵守各项财务制度，积极配</tspan><tspan x="2248" dy="16.3">合领导和同事完成各项工作任务，努力提高工</tspan><tspan x="2248" dy="16.3">作效率和工作质量。同时，我会不断总结经验</tspan><tspan x="2248" dy="16.3">教训，克服工作中的不足，以更加饱满的热情</tspan><tspan x="2248" dy="16.3">投入到工作中去，为公司的发展贡献自己的力</tspan><tspan x="2248" dy="16.3">量。</tspan></text></g>

<g id="p5"><rect x="916" y="4850" width="196" height="37" rx="18.5" class="bn"/><text class="nm" x="1014" y="4874">月度工作总结范文 篇5</text></g>
<g id="r1"><text class="t" x="634" y="4241.5"><tspan>一个月时间就这样很快的结束了，回顾自己这</tspan><tspan x="634" dy="16.3">月以来的工作，能够说是有很多的地方值得去</tspan><tspan x="634" dy="16.3">回忆。作为一名xxx(职位)，我要做的工作有</tspan><tspan x="634" dy="16.3">很多，但是我始终觉得说起来也挺小事情的，</tspan><tspan x="634" dy="16.3">这些小事都在我不断的工作中逐渐的去解决，</tspan><tspan x="634" dy="16.3">自己的工作潜力也得到了很大的提高，较好地</tspan><tspan x="634" dy="16.3">完成了各项工作任务。总结起来，主要有以下</tspan><tspan x="634" dy="16.3">六个方面：</tspan></text></g>
<g id="r1l"><text class="te" x="598" y="3814.5">一、加强学习，不断提高业务素质</text><text class="te" x="598" y="3984.5">二、严以律己，树立良好形象</text><text class="te" x="598" y="4184.5">三、用心工作，完成各项任务</text><text class="t" x="347" y="4345.5"><tspan>四、加强注重细节工作态度，加强语言功底，</tspan><tspan x="347" dy="16.3">消除紧张心理</tspan></text><text class="te" x="598" y="4545.5">五、人事管理方面</text><text class="te" x="598" y="4779.5">六、个人方面的事情</text></g>
<g id="r1a"><text class="t" x="123" y="3774.5"><tspan>虚心的向同事学习，经常利用网络工具和同岗</tspan><tspan x="123" dy="16.3">位的同事交流心得，逐步的完善自我。在工作</tspan><tspan x="123" dy="16.3">中，时时处处以领导和优秀同事为榜样，不会</tspan><tspan x="123" dy="16.3">的就学，不懂的就问，取人之长，补己之短，</tspan><tspan x="123" dy="16.3">始终持续了谦虚谨慎勤奋好学的用心态度，综</tspan><tspan x="123" dy="16.3">合潜力显著提高。</tspan></text></g>
<g id="r1b"><text class="t" x="148" y="3910.5"><tspan>严格遵守办公室的各项规章制度，时时处处以</tspan><tspan x="148" dy="16.3">工作为先，大局为重，遇有紧急任务，加班加</tspan><tspan x="148" dy="16.3">点，毫无怨言。领导下达了指令，会想方设法</tspan><tspan x="148" dy="16.3">去完成。听从领导、服从分配，对于领导和办</tspan><tspan x="148" dy="16.3">公室安排的每一份工作，不论大小，都高度重</tspan><tspan x="148" dy="16.3">视，总是尽职尽责、认认真真地去完成，从不</tspan><tspan x="148" dy="16.3">计较个人得失、打折扣、讲条件。经常自省自</tspan><tspan x="148" dy="16.3">励，开展批评与自我批评，严格约束自己的一</tspan><tspan x="148" dy="16.3">言一行、一举一动，树立起了办公室工作人员</tspan><tspan x="148" dy="16.3">的良好形象。</tspan></text></g>
<g id="r1c"><text class="t" x="148" y="4111.5"><tspan>九月份有个中秋节，对于我们服务行业来讲，</tspan><tspan x="148" dy="16.3">凡是节假日对我们的营业都有极大的冲击力。</tspan><tspan x="148" dy="16.3">所以在节日来临之前，务必把各项工作的相关</tspan><tspan x="148" dy="16.3">事宜一切准备妥当。按照领导的安排，认真做</tspan><tspan x="148" dy="16.3">好各类文件、通知、打印、校对以及传达工作</tspan><tspan x="148" dy="16.3">;全方位为领导搞好服务，常请示、勤汇报，</tspan><tspan x="148" dy="16.3">努力做好参谋助手，为整个办公室工作有条不</tspan><tspan x="148" dy="16.3">紊的开展发挥了用心作用。同时，经常深入基</tspan><tspan x="148" dy="16.3">层调查研究，了解员工思想动态，为领导科学</tspan><tspan x="148" dy="16.3">决策带给了可靠依据。</tspan></text></g>
<g id="r1d"><text class="t" x="61" y="4312.5"><tspan>xx工作，细心极其的关键。比如下一份文，</tspan><tspan x="61" dy="16.3">我也会琢磨，但是会因为紧张让大脑产生短路</tspan><tspan x="61" dy="16.3">，这种表现就像涵总说的一句话是缺乏运筹帷</tspan><tspan x="61" dy="16.3">幄的处事潜力，急了就乱了。但是她说这种潜</tspan><tspan x="61" dy="16.3">力也与经验有关，经历多了，自然也会有所提</tspan><tspan x="61" dy="16.3">高的。</tspan></text></g>
<g id="r1e"><text class="t" x="211" y="4449.5"><tspan>相对来讲，我们人事工作还存在很大需要改善</tspan><tspan x="211" dy="16.3">的地方。这个月出现了一个严重的问题就是总</tspan><tspan x="211" dy="16.3">公司已经下文要做好留人计划方案这项工作，</tspan><tspan x="211" dy="16.3">即"与员工谈话"，但是还没落实好，有些部门</tspan><tspan x="211" dy="16.3">做了，但是也没按要求做，由此可见这件事并</tspan><tspan x="211" dy="16.3">未引起管理人员的高度重视，员工思想我们都</tspan><tspan x="211" dy="16.3">没了解好，我们谈何留人。这几个月基本上是</tspan><tspan x="211" dy="16.3">新进与离职的人员不相上下，本月是离职人数</tspan><tspan x="211" dy="16.3">大于新进。从那里面能够看出做了解员工思想</tspan><tspan x="211" dy="16.3">工作的重要性。其中这工作没完成有极大方面</tspan><tspan x="211" dy="16.3">的原因是我没做好督查工作，这是我工作失职</tspan><tspan x="211" dy="16.3">的表现。这件事体现了我的执行力不够强，在</tspan><tspan x="211" dy="16.3">以后的工作中我要加强这方面的潜力。</tspan></text></g>
<g id="r1f"><text class="t" x="199" y="4698.5"><tspan>这个月我的激情感觉不是很高涨。领导吩咐做</tspan><tspan x="199" dy="16.3">的事情，也做了，和同事们相处感觉也挺好的</tspan><tspan x="199" dy="16.3">，觉得跟他们比以前都更熟了。但是我却发现</tspan><tspan x="199" dy="16.3">自己在待人接物方面没有了刚开始的那种耐性</tspan><tspan x="199" dy="16.3">，见面我也笑呵呵的，但是我自己觉得有点假</tspan><tspan x="199" dy="16.3">了。我找过原因，可能真的是因为从校园出来</tspan><tspan x="199" dy="16.3">工作这个过渡期做得不够好，产生了工作疲惫</tspan><tspan x="199" dy="16.3">综合症。我总有自己还是个孩子的感觉，有很</tspan><tspan x="199" dy="16.3">多事情是关于到人情世故的东西，我觉得处理</tspan><tspan x="199" dy="16.3">这些事情很累，也不懂得怎样样才能做好，真</tspan><tspan x="199" dy="16.3">的很困惑，以致越来越没激情。</tspan></text></g>
<g id="r2"><text class="t" x="634" y="5065.5"><tspan>工作中虽然取得了必须成绩，但仍然存在着一</tspan><tspan x="634" dy="16.3">些问题和不足，今后，我要一如既往地向领导</tspan><tspan x="634" dy="16.3">们学习，发扬优点、克服不足，与时俱进，积</tspan><tspan x="634" dy="16.3">极我于xxx年xxx月份任职于xx公司，在任职</tspan><tspan x="634" dy="16.3">期间，我非常感谢公司领导及各位同事的支持</tspan><tspan x="634" dy="16.3">与帮助。在公司领导和各位同事的支持与帮助</tspan><tspan x="634" dy="16.3">下，我很快融入了我们这个集体当中，成为这</tspan><tspan x="634" dy="16.3">大家庭的一员，在工作模式和工作方式上有了</tspan><tspan x="634" dy="16.3">重大的突破和改变，在任职期间，我严格要求</tspan><tspan x="634" dy="16.3">自己，做好自己的.本职工作。现将xx月的工</tspan><tspan x="634" dy="16.3">作总结如下：</tspan></text></g>
<g id="r2l"><text class="te" x="598" y="4988.5">一、销售部办公室的日常工作</text><text class="te" x="598" y="5181.5">二、及时了解用户回款额和逾期欠款额的情况</text><text class="te" x="598" y="5301.5">三、今后努力的方向</text></g>
<g id="r2a"><text class="t" x="148" y="4916.5"><tspan>作为公司的销售内勤，我深知岗位的重工性，</tspan><tspan x="148" dy="16.3">也能增强我个人的交际能力。销售部内勤是一</tspan><tspan x="148" dy="16.3">个承上启下、沟通内外、协调左右、联系八方</tspan><tspan x="148" dy="16.3">的重要枢纽，把握市场购机用户资料的收集，</tspan><tspan x="148" dy="16.3">为销售部业务人员做好保障。在一些文件的整</tspan><tspan x="148" dy="16.3">理、分期买卖合同的签署、用户逾期欠款额、</tspan><tspan x="148" dy="16.3">销售数量等等都是一些有益的决策文件，面对</tspan><tspan x="148" dy="16.3">这些繁琐的日常事务，要有头有尾，自我增强</tspan><tspan x="148" dy="16.3">协调工作意识，这些基本上做到了事事有着落</tspan><tspan x="148" dy="16.3">。</tspan></text></g>
<g id="r2b"><text class="t" x="61" y="5116.5"><tspan>作为公司的销售内勤，我负责用户的回款额及</tspan><tspan x="61" dy="16.3">逾期欠款额的工作，主要内容是针对逾期欠款</tspan><tspan x="61" dy="16.3">用户，用户的还款进度是否及时，关系到公司</tspan><tspan x="61" dy="16.3">的资金周转以及公司的经济效益，我们要及时</tspan><tspan x="61" dy="16.3">了解购机用户的工程进度，从而加大催款力度</tspan><tspan x="61" dy="16.3">，以免给公司造成不必要的损失，在提报《客</tspan><tspan x="61" dy="16.3">户到期应收账款明细表》是，要做到及时、准</tspan><tspan x="61" dy="16.3">确，让公司领导根据此表针对不同的客户做出</tspan><tspan x="61" dy="16.3">相应的对策，这样才能控制风险。</tspan></text></g>
<g id="r3"><text class="t" x="634" y="5429.5"><tspan>入职到现在，本人爱岗敬业、创造性地开展工</tspan><tspan x="634" dy="16.3">作，虽然取得了成绩，但也存在一些问题和不</tspan><tspan x="634" dy="16.3">足。主要是表现在：</tspan></text></g>
<g id="r3a"><text class="t" x="347" y="5356.5"><tspan>第一，用户回款额这方面有些不协调，也许是</tspan><tspan x="347" dy="16.3">刚刚接触这方面的业务。</tspan></text></g>
<g id="r3b"><text class="t" x="347" y="5429.5"><tspan>第二，加强自身的学习，拓展知识面，努力学</tspan><tspan x="347" dy="16.3">习工程机械专业知识，对于同行业的发展以及</tspan><tspan x="347" dy="16.3">统筹规划做到心中有数。</tspan></text></g>
<g id="r3c"><text class="t" x="347" y="5516.5"><tspan>第三，要做到实事求是，上情下达、下情上达</tspan><tspan x="347" dy="16.3">，做好领导的好助手。</tspan></text></g>
<g id="r3d"><text class="t" x="61" y="5516.5"><tspan>在以后的工作当中，我会扬长避短，做一名称</tspan><tspan x="61" dy="16.3">职的销售内勤，与企业共成长。</tspan></text></g>

<g id="watermark">
<use xlink:href="#wmt" transform="translate(345,700) rotate(-31)"/>
<use xlink:href="#wmt" transform="translate(345,1700) rotate(-31)"/>
<use xlink:href="#wmt" transform="translate(345,2700) rotate(-31)"/>
<use xlink:href="#wmt" transform="translate(345,3700) rotate(-31)"/>
<use xlink:href="#wmt" transform="translate(345,4700) rotate(-31)"/>
<use xlink:href="#wmt" transform="translate(345,5700) rotate(-31)"/>
<use xlink:href="#wmt" transform="translate(1620,700) rotate(-31)"/>
<use xlink:href="#wmt" transform="translate(1620,1700) rotate(-31)"/>
<use xlink:href="#wmt" transform="translate(1620,2700) rotate(-31)"/>
<use xlink:href="#wmt" transform="translate(1620,3700) rotate(-31)"/>
<use xlink:href="#wmt" transform="translate(1620,4700) rotate(-31)"/>
<use xlink:href="#wmt" transform="translate(1620,5700) rotate(-31)"/>
</g>
</g>
</svg>
